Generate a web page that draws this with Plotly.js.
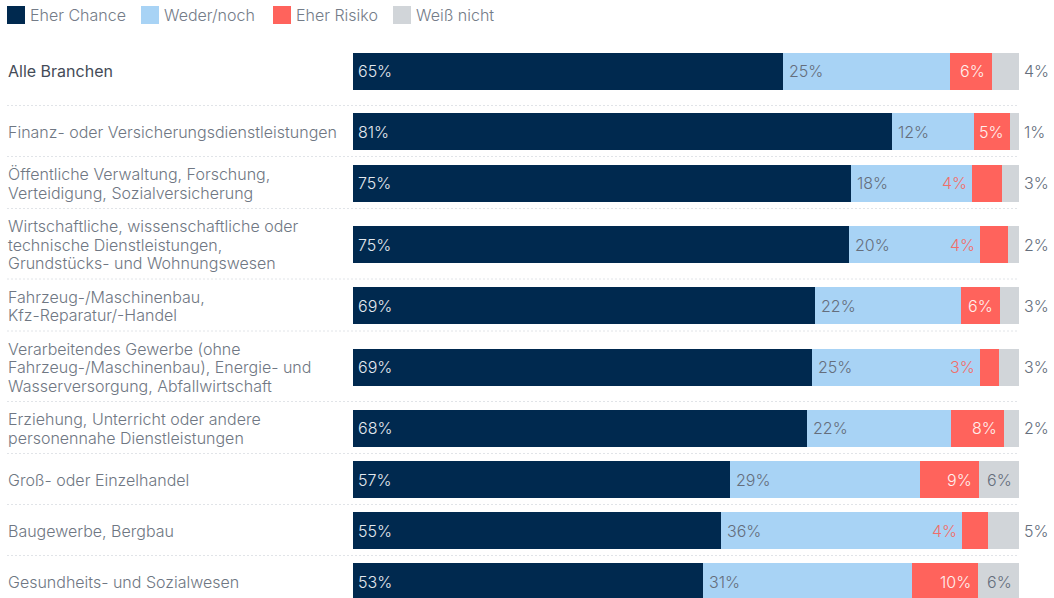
<!DOCTYPE html>
<html>
<head>
<meta charset="utf-8">
<script src="https://cdn.plot.ly/plotly-3.0.1.min.js"></script>
<style>html,body{margin:0;padding:0;background:#fff;}#chart{width:1054px;height:598px;}</style>
</head>
<body>
<div id="chart"></div>
<script>
// ---- data ----
const categories = [
  "Alle Branchen",
  "Finanz- oder Versicherungsdienstleistungen",
  "Öffentliche Verwaltung, Forschung,<br>Verteidigung, Sozialversicherung",
  "Wirtschaftliche, wissenschaftliche oder<br>technische Dienstleistungen,<br>Grundstücks- und Wohnungswesen",
  "Fahrzeug-/Maschinenbau,<br>Kfz-Reparatur/-Handel",
  "Verarbeitendes Gewerbe (ohne<br>Fahrzeug-/Maschinenbau), Energie- und<br>Wasserversorgung, Abfallwirtschaft",
  "Erziehung, Unterricht oder andere<br>personennahe Dienstleistungen",
  "Groß- oder Einzelhandel",
  "Baugewerbe, Bergbau",
  "Gesundheits- und Sozialwesen"
];
const seriesNames = ["Eher Chance", "Weder/noch", "Eher Risiko", "Weiß nicht"];
const eherChance = [64.6, 80.9, 74.8, 74.5, 69.4, 68.9, 68.2, 56.6, 55.3, 52.6];
const wederNoch  = [25.0, 12.3, 18.2, 19.7, 21.9, 25.2, 21.6, 28.5, 36.2, 31.4];
const eherRisiko = [6.4, 5.4, 4.4, 4.1, 5.9, 2.9, 8.0, 8.9, 3.9, 9.8];
const weissNicht = [4.0, 1.4, 2.6, 1.7, 2.8, 3.0, 2.2, 6.0, 4.6, 6.2];

// ---- layout geometry ----
const W = 1054, H = 598, ML = 353, MR = 35, MT = 35, MB = 0;
const PW = W - ML - MR, PH = H - MT - MB;
const pxX = px => (px - ML) / PW;          // pixel -> paper x
const pxY = py => (H - MB - py) / PH;      // pixel -> paper y
const FONT = "Inter, 'Noto Sans', sans-serif";
const colors = ["#00294f", "#a8d3f5", "#ff635c", "#d1d5d9"];
const LINE_H = 18.5;
const LIGHT = 300;

// row heights from label line count (summary row gets extra room)
const rowTops = [], rowCenters = [];
let cur = MT;
categories.forEach((c, i) => {
  const lines = c.split("<br>").length;
  const h = (i === 0 || lines >= 3) ? 70.5 : (lines === 2 ? 52 : 51);
  rowTops.push(cur);
  rowCenters.push(cur + h / 2 + 0.75);
  cur += h;
});

const series = [eherChance, wederNoch, eherRisiko, weissNicht];
const traces = series.map((vals, k) => ({
  type: "bar", orientation: "h",
  x: vals, y: rowCenters, width: 37,
  name: seriesNames[k],
  marker: {color: colors[k], line: {width: 0}},
  showlegend: false,
  hovertemplate: "%{x:.0f}%<extra>" + seriesNames[k] + "</extra>"
}));

const annotations = [];
const shapes = [];
const pct = v => Math.round(v) + "%";
const pos = v => Math.min(100, Math.round(v * 1000) / 1000) / 100;   // data -> paper x (axis 0..100)
const f = (color, weight) => ({family: FONT, size: 16, color: color, weight: weight || LIGHT});

categories.forEach((c, i) => {
  const y = rowCenters[i];
  // category label, one annotation per line for tight line spacing
  const lines = c.split("<br>");
  lines.forEach((ln, j) => {
    annotations.push({
      text: ln, xref: "paper", yref: "y", x: pxX(6),
      y: y + (j - (lines.length - 1) / 2) * LINE_H,
      xanchor: "left", yanchor: "middle", align: "left", showarrow: false,
      font: i === 0 ? f("#444b57", 400) : f("#6f7783")
    });
  });
  // separators
  if (i > 0) {
    shapes.push({type: "line", xref: "paper", yref: "y", x0: pxX(7), x1: 1,
      y0: rowTops[i], y1: rowTops[i], line: {color: "#e1e4e8", width: 1, dash: "2px,2px"}});
  }
  const s1 = eherChance[i], s2 = s1 + wederNoch[i], s3 = s2 + eherRisiko[i], s4 = s3 + weissNicht[i];
  const base = {yref: "y", xref: "paper", y: y, yanchor: "middle", showarrow: false};
  annotations.push(Object.assign({}, base, {text: pct(eherChance[i]), x: 0, xanchor: "left", xshift: 3,
    font: f("#e3e8ee")}));
  annotations.push(Object.assign({}, base, {text: pct(wederNoch[i]), x: pos(s1), xanchor: "left", xshift: 4,
    font: f("#656e7c")}));
  if (eherRisiko[i] >= 5) {
    annotations.push(Object.assign({}, base, {text: pct(eherRisiko[i]), x: pos(s3), xanchor: "right", xshift: -5,
      font: f("#fff0ee")}));
  } else {
    annotations.push(Object.assign({}, base, {text: pct(eherRisiko[i]), x: pos(s2), xanchor: "right", xshift: -3,
      font: f("#f06f6b")}));
  }
  if (weissNicht[i] >= 5) {
    annotations.push(Object.assign({}, base, {text: pct(weissNicht[i]), x: pos(s4), xanchor: "right", xshift: -5,
      font: f("#656e7c")}));
  } else {
    annotations.push(Object.assign({}, base, {text: pct(weissNicht[i]), x: pos(s4), xanchor: "left", xshift: 3,
      font: f("#656e7c")}));
  }
});

// legend (manual, squares + text)
const legendX = [7, 141, 273, 393];
seriesNames.forEach((n, k) => {
  shapes.push({type: "rect", xref: "paper", yref: "paper",
    x0: pxX(legendX[k]), x1: pxX(legendX[k] + 18), y0: pxY(24), y1: pxY(6),
    fillcolor: colors[k], line: {width: 0}});
  annotations.push({text: n, xref: "paper", yref: "paper", x: pxX(legendX[k] + 21), y: pxY(15),
    xanchor: "left", yanchor: "middle", showarrow: false,
    font: f("#747c88")});
});

const layout = {
  width: W, height: H,
  margin: {l: ML, r: MR, t: MT, b: MB, pad: 0},
  paper_bgcolor: "#ffffff", plot_bgcolor: "#ffffff",
  barmode: "stack", bargap: 0,
  xaxis: {range: [0, 100], visible: false, fixedrange: true},
  yaxis: {range: [H - MB, MT], visible: false, fixedrange: true},
  showlegend: false,
  annotations: annotations, shapes: shapes,
  font: {family: FONT}
};
Plotly.newPlot("chart", traces, layout, {displayModeBar: false});
</script>
</body>
</html>
